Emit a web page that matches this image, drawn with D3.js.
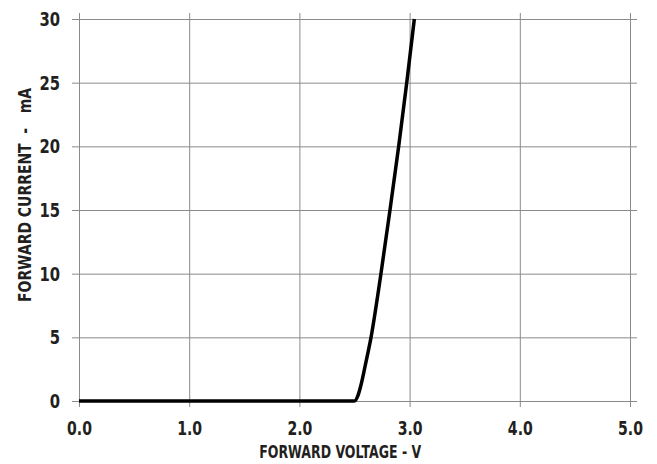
<!DOCTYPE html>
<html>
<head>
<meta charset="utf-8">
<script src="https://cdn.jsdelivr.net/npm/d3@7"></script>
<style>
  body { margin: 0; background: #fff; }
  text { font-family: "DejaVu Sans", sans-serif; font-weight: bold; fill: #231f20; }
</style>
</head>
<body>
<div id="svgRoot"></div>
<script>
// forward voltage (V) vs forward current (mA)
var voltage = [0.0, 1.0, 2.0, 2.5, 2.53, 2.56, 2.6, 2.65, 2.74, 2.822, 2.901, 2.974, 3.043];
var current = [0, 0, 0, 0, 0.4, 1.3, 2.9, 5, 10, 15, 20, 25, 30];
var xTicks = [0, 1, 2, 3, 4, 5];
var yTicks = [0, 5, 10, 15, 20, 25, 30];

var W = 657, H = 464;
var margin = { top: 19, right: 27, bottom: 63, left: 79 },
  width = W - margin.left - margin.right,
  height = H - margin.top - margin.bottom;

var svg = d3.select("#svgRoot").append("svg")
  .attr("width", W).attr("height", H)
  .append("g")
  .attr("transform", "translate(" + margin.left + "," + margin.top + ")");

var x = d3.scaleLinear().domain([0, 5]).range([0, width]);
var y = d3.scaleLinear().domain([0, 30]).range([height, 0]);

// no condensed bold font here, so squeeze the glyphs a bit
function narrow(sel, k) {
  sel.each(function () {
    var w = this.getComputedTextLength();
    d3.select(this).attr("textLength", w * k).attr("lengthAdjust", "spacingAndGlyphs");
  });
}

// grid + axes
var xAxis = svg.append("g")
  .attr("transform", "translate(0," + height + ")")
  .call(d3.axisBottom(x).tickValues(xTicks).tickFormat(d3.format(".1f"))
    .tickSizeInner(-height - 6).tickSizeOuter(0).tickPadding(21));
xAxis.selectAll(".tick line").attr("stroke", "#8a8a8a").attr("y1", 6);
xAxis.select(".domain").remove();
xAxis.selectAll("text").style("font-size", "19px").attr("dy", "0.71em").call(narrow, 0.74);

var yAxis = svg.append("g")
  .call(d3.axisLeft(y).tickValues(yTicks)
    .tickSizeInner(-width - 7).tickSizeOuter(0).tickPadding(19));
yAxis.selectAll(".tick line").attr("stroke", "#8a8a8a").attr("x1", -7);
yAxis.select(".domain").remove();
yAxis.selectAll("text").style("font-size", "20px").call(narrow, 0.74);

// the curve
var pts = voltage.map(function (v, i) { return { v: v, i: current[i] }; });
var line = d3.line()
  .x(function (d) { return x(d.v); })
  .y(function (d) { return y(d.i); })
  .curve(d3.curveMonotoneX);
svg.append("path")
  .datum(pts)
  .attr("d", line)
  .attr("fill", "none")
  .attr("stroke", "#000")
  .attr("stroke-width", 3.5)
  .attr("stroke-linejoin", "round");

// axis titles
svg.append("text")
  .text("FORWARD VOLTAGE - V")
  .attr("text-anchor", "middle")
  .attr("x", x(2.37))
  .attr("y", height + 57)
  .attr("textLength", 162)
  .attr("lengthAdjust", "spacingAndGlyphs")
  .style("font-size", "18px");

svg.append("text")
  .text("FORWARD CURRENT  -   mA")
  .attr("text-anchor", "middle")
  .attr("transform", "rotate(-90)")
  .attr("x", -(195 - margin.top))
  .attr("y", -48)
  .attr("textLength", 214)
  .attr("lengthAdjust", "spacingAndGlyphs")
  .style("font-size", "18px")
  .style("white-space", "pre");
</script>
</body>
</html>
